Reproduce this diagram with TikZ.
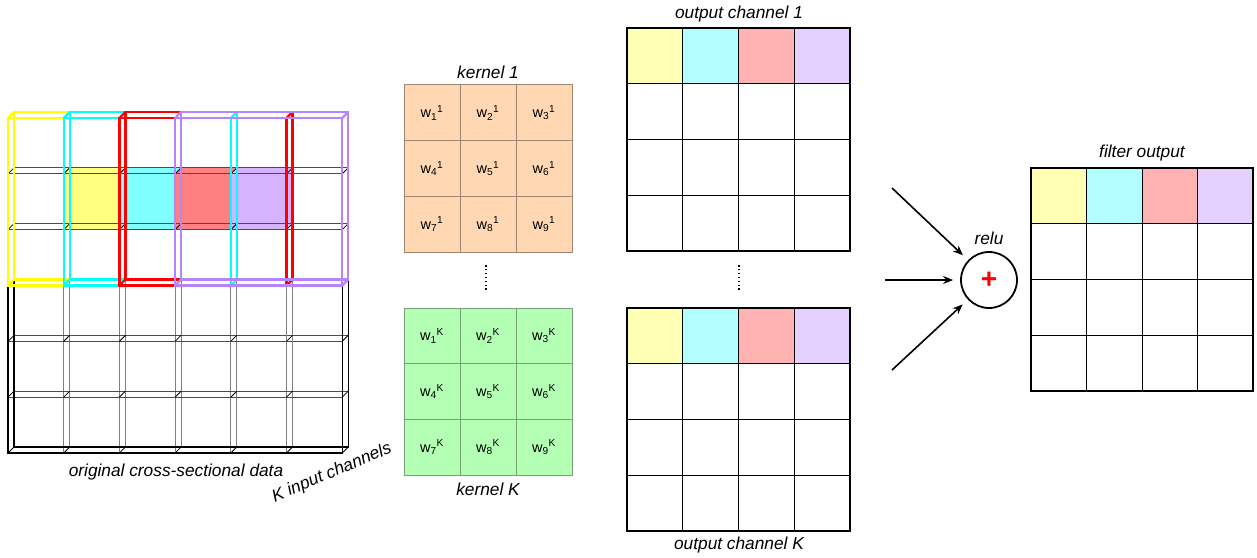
\documentclass[tikz,border=0pt]{standalone}
\usepackage{fontspec}
\setmainfont{Liberation Sans}
\usetikzlibrary{arrows.meta}

% cell fills
\definecolor{peach}{RGB}{255,215,178}
\definecolor{mint}{RGB}{179,255,179}
\definecolor{peachline}{RGB}{160,135,115}
\definecolor{mintline}{RGB}{120,160,120}
\definecolor{hiY}{RGB}{255,255,128}
\definecolor{hiC}{RGB}{128,255,255}
\definecolor{hiR}{RGB}{255,128,128}
\definecolor{hiP}{RGB}{213,179,255}
\definecolor{outY}{RGB}{255,255,179}
\definecolor{outC}{RGB}{179,255,255}
\definecolor{outR}{RGB}{255,179,179}
\definecolor{outP}{RGB}{229,209,255}
% window frame colours
\definecolor{frY}{RGB}{255,255,0}
\definecolor{frC}{RGB}{0,255,255}
\definecolor{frR}{RGB}{255,0,0}
\definecolor{frP}{RGB}{170,110,255}

\tikzset{
  caption/.style={font=\fontsize{17.3}{20}\selectfont\itshape, inner sep=0pt},
  kcell/.style={draw=#1, minimum width=56pt, minimum height=55.67pt, inner sep=0pt,
                line width=1pt, font=\fontsize{14.5}{16}\selectfont},
  ocell/.style={draw=black, minimum size=55.75pt, inner sep=0pt, line width=1pt},
  gridv/.style={draw=black!50, line width=1.1pt},
  gridh/.style={draw=black!70, line width=1.1pt},
  gridedge/.style={draw=black, line width=1.3pt},
  depth/.style={draw=black, line width=0.8pt},
  frame/.style={draw=#1, line width=2.2pt},
  feed/.style={-{Stealth[length=10pt,width=8pt]}, line width=1.6pt, shorten >=7pt},
}

\newcommand\windowbox[2]{%
  \pgfmathsetmacro\xa{8+#2*55.7}%
  \pgfmathsetmacro\xb{8+(#2+3)*55.7}%
  \draw[frame=#1] (\xa+6,112) rectangle (\xb+6,279.5);
  \draw[frame=#1] (\xa,118) -- ++(6,-6) (\xb,118) -- ++(6,-6)
                  (\xa,285.5) -- ++(6,-6) (\xb,285.5) -- ++(6,-6);
  \draw[frame=#1] (\xa,118) rectangle (\xb,285.5);
}

\newcommand\hicell[2]{%
  \pgfmathsetmacro\xa{8+#2*55.7}%
  \pgfmathsetmacro\xb{8+(#2+1)*55.7}%
  \fill[#1] (\xa,229.7) -- (\xa,173.8) -- (\xa+6,167.8) -- (\xb+6,167.8)
            -- (\xb+6,223.7) -- (\xb,229.7) -- cycle;
}

\begin{document}
\begin{tikzpicture}[x=1pt,y=-1pt]
\useasboundingbox (0,0) rectangle (1257,557);

% ---------- input volume: 6x6 grid of cubes ----------
\hicell{hiY}{1}
\hicell{hiC}{2}
\hicell{hiR}{3}
\hicell{hiP}{4}

\foreach \i in {1,...,5} {
  \draw[gridv] (8+\i*55.7,118) -- (8+\i*55.7,453);
  \draw[gridv] (14+\i*55.7,112) -- (14+\i*55.7,447);
  \draw[gridh] (8,118+\i*55.83) -- (342.2,118+\i*55.83);
  \draw[gridh] (14,112+\i*55.83) -- (348.2,112+\i*55.83);
}
\foreach \i in {0,...,6} \foreach \j in {0,...,6}
  \draw[depth] (8+\i*55.7,118+\j*55.83) -- ++(6,-6);
\draw[gridedge] (14,112) rectangle (348.2,447);
\draw[gridedge] (8,118) rectangle (342.2,453);

% sliding 3x3 windows
\windowbox{frY}{0}
\windowbox{frC}{1}
\windowbox{frR}{2}
\windowbox{frP!85}{3}

\node[caption] (incap) at (176,472) {original cross-sectional data};
\node[caption, rotate=23] (chcap) at (332,473) {K input channels};

% ---------- kernels ----------
\foreach \r in {0,1,2} \foreach \c in {0,1,2} {
  \pgfmathtruncatemacro\n{3*\r+\c+1}
  \node[kcell=peachline, fill=peach] (ka-\n) at (432+\c*56,112.83+\r*55.67)
    {w\textsubscript{\n}\textsuperscript{1}};
  \node[kcell=mintline, fill=mint] (kb-\n) at (432+\c*56,335.83+\r*55.67)
    {w\textsubscript{\n}\textsuperscript{K}};
}
\node[caption] (kacap) at (488,72) {kernel 1};
\node[caption] (kbcap) at (488,489) {kernel K};
\draw[line width=1.5pt, dash pattern=on 1.5pt off 2.4pt] (486,265) -- (486,292);

% ---------- output channels ----------
\foreach \r in {0,...,3} \foreach \c in {0,...,3} {
  \node[ocell] (oa-\r\c) at (654.9+\c*55.75,55.9+\r*55.75) {};
  \node[ocell] (ob-\r\c) at (654.9+\c*55.75,335.9+\r*55.75) {};
  \node[ocell] (fo-\r\c) at (1058.9+\c*55.5,195.9+\r*55.75) {};
}
\foreach \c/\col in {0/outY,1/outC,2/outR,3/outP} {
  \node[ocell, fill=\col] at (oa-0\c) {};
  \node[ocell, fill=\col] at (ob-0\c) {};
  \node[ocell, fill=\col, minimum width=55.5pt] at (fo-0\c) {};
}
\draw[line width=1.3pt] (627,28) rectangle (850,251);
\draw[line width=1.3pt] (627,308) rectangle (850,531);
\draw[line width=1.3pt] (1031,168) rectangle (1253,391);
\node[caption] (oacap) at (739,14) {output channel 1};
\node[caption] (obcap) at (739,545) {output channel K};
\node[caption] (focap) at (1142,153) {filter output};
\draw[line width=1.5pt, dash pattern=on 1.5pt off 2.4pt] (739,265) -- (739,292);

% ---------- summation + relu ----------
\node[circle, draw, line width=1.8pt, minimum size=56pt, inner sep=0pt,
      text=red, font=\fontsize{28}{28}\selectfont\bfseries] (sum) at (989,280) {+};
\node[caption] (relu) at (989,238) {relu};
\coordinate (in1) at (892,188);
\coordinate (in2) at (885,280);
\coordinate (in3) at (892,370);
\draw[feed] (in1) -- (sum);
\draw[feed] (in2) -- (sum);
\draw[feed] (in3) -- (sum);
\end{tikzpicture}
\end{document}
